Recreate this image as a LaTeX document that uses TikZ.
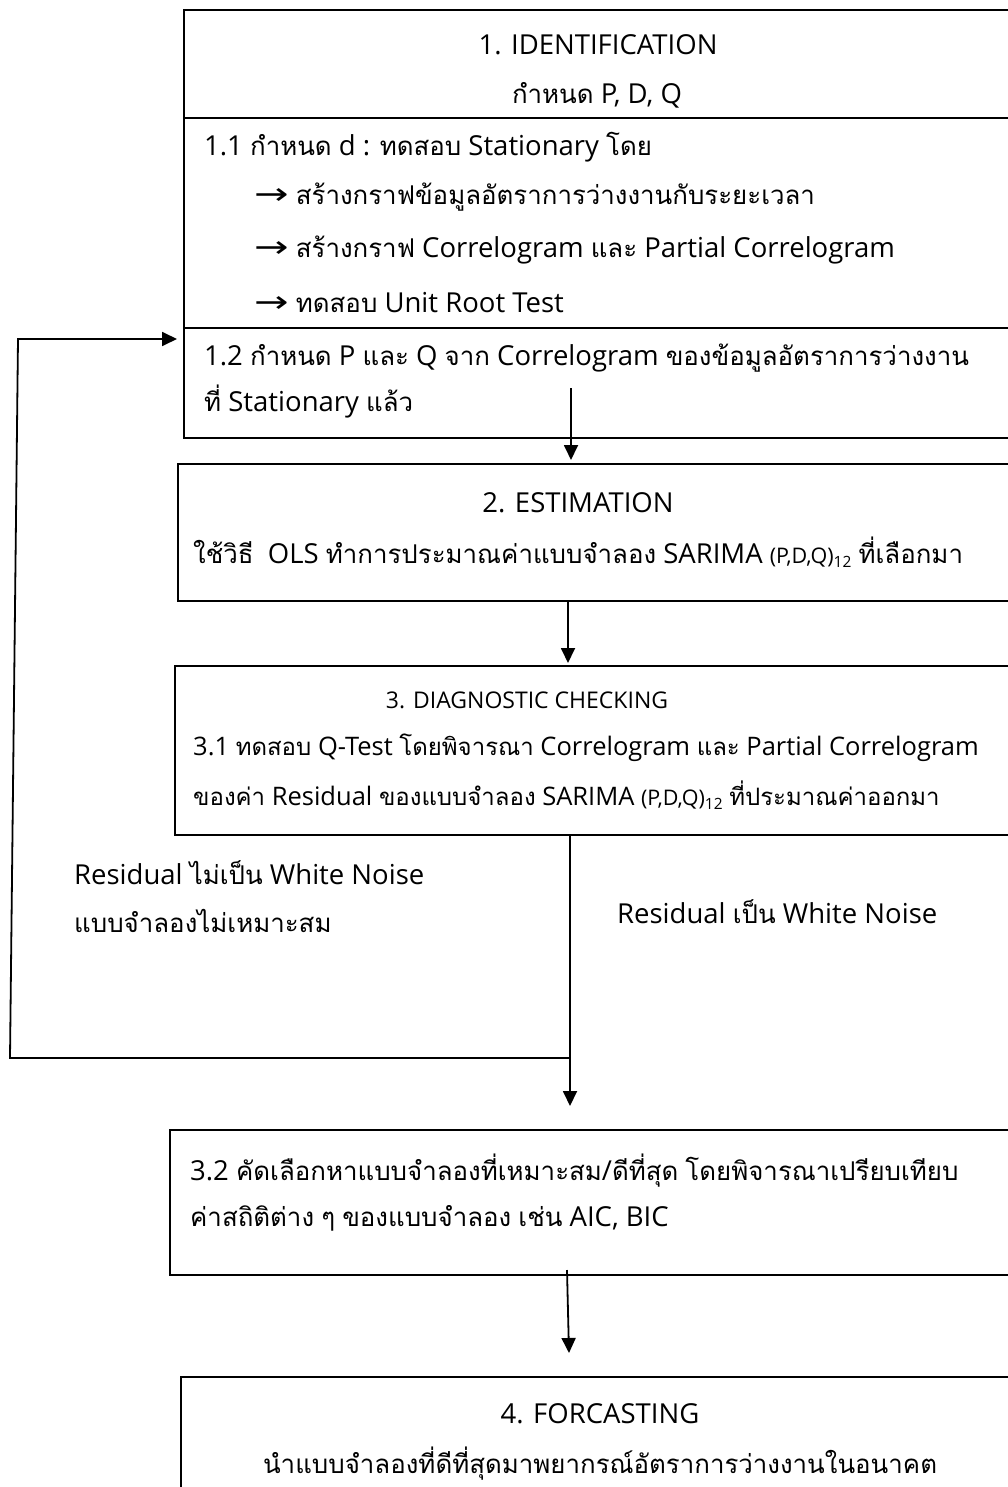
\documentclass[tikz,border=0pt]{standalone}
\usepackage{fontspec}
\usepackage{graphicx}
\setmainfont{Open Sans}
\newfontfamily\thaifont[Script=Thai,Scale=0.94]{Loma}
\newfontfamily\latinfont{Open Sans}
\newfontfamily\symfont{DejaVu Sans}
\usetikzlibrary{arrows.meta}
\XeTeXinterchartokenstate=1
\newXeTeXintercharclass\thaiclass
\count255="0E00
\loop\XeTeXcharclass\count255=\thaiclass\relax\advance\count255 by 1\relax\ifnum\count255<"0E80 \repeat
\XeTeXinterchartoks 0 \thaiclass = {\thaifont}
\XeTeXinterchartoks 4095 \thaiclass = {\thaifont}
\XeTeXinterchartoks \thaiclass 0 = {\latinfont}
\XeTeXinterchartoks \thaiclass 4095 = {\latinfont}
\newcommand\pdqsub{{\fontsize{21.5}{22}\selectfont (P,D,Q)\raisebox{-0.35ex}{\fontsize{15.5}{16}\selectfont 12}}}
\newcommand\rarr{{\symfont\scalebox{1.5}[1.1]{→}}}
\begin{document}
\begin{tikzpicture}[x=1pt,y=-1pt,
  box/.style={draw, line width=2.4pt, anchor=north west, inner sep=0pt},
  arr/.style={line width=1.8pt, -{Triangle[width=14pt,length=15pt]}},
  txt/.style={inner sep=0pt, font=\fontsize{27.5}{30}\selectfont},
  ltxt/.style={txt, anchor=west},
  stxt/.style={inner sep=0pt, anchor=west, font=\fontsize{25.5}{28}\selectfont},
  ]
\useasboundingbox (0,0) rectangle (1008,1487);
\clip (0,0) rectangle (1008,1487);

% boxes
\node[box, minimum width=860pt, minimum height=428pt] (b1) at (183,9) {};
\node[box, minimum width=860pt, minimum height=137pt] (b2) at (177,463) {};
\node[box, minimum width=860pt, minimum height=169pt] (b3) at (174,665) {};
\node[box, minimum width=860pt, minimum height=145pt] (b5) at (169,1129) {};
\node[box, minimum width=860pt, minimum height=200pt] (b6) at (180,1376) {};

% dividers in box 1
\coordinate (d1) at (0,118);
\coordinate (d2) at (0,328);
\draw[line width=2.4pt] (b1.west |- d1) -- (b1.east |- d1);
\draw[line width=2.4pt] (b1.west |- d2) -- (b1.east |- d2);

% box 1 texts
\node[txt] (t1) at (598,45) {1. IDENTIFICATION};
\node[txt] (t2) at (597,95) {กำหนด P, D, Q};
\node[ltxt] (t3) at (204,147) {1.1 กำหนด d : ทดสอบ Stationary โดย};
\node[ltxt] (t4) at (254,197) {\rarr{} สร้างกราฟข้อมูลอัตราการว่างงานกับระยะเวลา};
\node[ltxt] (t5) at (254,250) {\rarr{} สร้างกราฟ Correlogram และ Partial Correlogram};
\node[ltxt] (t6) at (254,303) {\rarr{} ทดสอบ Unit Root Test};
\node[ltxt] (t7) at (204,358) {1.2 กำหนด P และ Q จาก Correlogram ของข้อมูลอัตราการว่างงาน};
\node[ltxt] (t8) at (204,402) {ที่ Stationary แล้ว};

% box 2 texts
\node[txt] (t9) at (578,503) {2. ESTIMATION};
\node[ltxt] (t10) at (193,552) {ใช้วิธี\ \ OLS ทำการประมาณค่าแบบจำลอง SARIMA \pdqsub{} ที่เลือกมา};

% box 3 texts
\node[txt, font=\fontsize{23}{26}\selectfont] (t11) at (527,700) {3. DIAGNOSTIC CHECKING};
\node[stxt] (t12) at (193,748) {3.1 ทดสอบ Q-Test โดยพิจารณา Correlogram และ Partial Correlogram};
\node[stxt] (t13) at (193,795) {ของค่า Residual ของแบบจำลอง SARIMA \pdqsub{} ที่ประมาณค่าออกมา};

% branch labels
\node[ltxt] (t14) at (74,873) {Residual ไม่เป็น White Noise};
\node[ltxt] (t15) at (74,921) {แบบจำลองไม่เหมาะสม};
\node[ltxt] (t16) at (617,912) {Residual เป็น White Noise};

% box 3.2 texts
\node[ltxt] (t17) at (190,1171) {3.2 คัดเลือกหาแบบจำลองที่เหมาะสม/ดีที่สุด โดยพิจารณาเปรียบเทียบ};
\node[ltxt] (t18) at (190,1218) {ค่าสถิติต่าง ๆ ของแบบจำลอง เช่น AIC, BIC};

% box 4 texts
\node[txt] (t19) at (600,1414) {4. FORCASTING};
\node[txt] (t20) at (600,1464) {นำแบบจำลองที่ดีที่สุดมาพยากรณ์อัตราการว่างงานในอนาคต};

% connectors
\coordinate (s1) at (571,388);
\draw[arr, shorten >=3pt] (s1) -- (s1 |- b2.north);
\coordinate (s2) at (568,0);
\draw[arr, shorten >=2pt] (s2 |- b2.south) -- (s2 |- b3.north);
\coordinate (s3) at (570,0);
\coordinate (e3) at (570,1106);
\draw[arr] (s3 |- b3.south) -- (e3);
\coordinate (j) at (570,1058);
\coordinate (fl) at (10,1058);
\coordinate (ft) at (18,339);
\draw[arr, shorten >=6pt] (j) -- (fl) -- (ft) -- (b1.west |- ft);
\coordinate (s4) at (567,1270);
\coordinate (e4) at (569,1353);
\draw[arr] (s4) -- (e4);
\end{tikzpicture}
\end{document}
